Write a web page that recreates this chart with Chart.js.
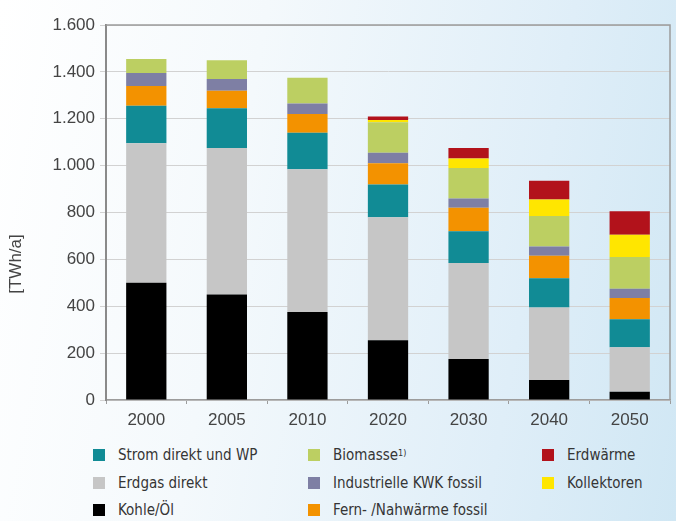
<!DOCTYPE html>
<html>
<head>
<meta charset="utf-8">
<script src="https://cdn.jsdelivr.net/npm/chart.js@4/dist/chart.umd.min.js"></script>
<style>
  html, body { margin: 0; padding: 0; }
  body {
    width: 676px; height: 521px; overflow: hidden; position: relative;
    background: linear-gradient(100deg, #ffffff 0%, #f4f9fc 35%, #dfeef8 75%, #d0e7f4 100%);
  }
  #wrap { position: absolute; left: 0; top: 0; width: 676px; height: 440px; }
  .lg { position: absolute; display: flex; align-items: center; height: 20px;
        font-family: "DejaVu Sans Condensed", "DejaVu Sans", sans-serif; font-stretch: condensed;
        font-size: 15px; color: #353535; white-space: nowrap; }
  .lg i { display: inline-block; width: 12px; height: 12px; margin-right: 13px; }
  .lg sup { font-size: 9px; position: relative; top: -2px; }
</style>
</head>
<body>
<div id="wrap"><canvas id="c"></canvas></div>
<div id="legend"></div>
<script>
// categories and tick labels
const years = ['2000', '2005', '2010', '2020', '2030', '2040', '2050'];
const yTicks = [0, 200, 400, 600, 800, 1000, 1200, 1400, 1600];
const yTitle = '[TWh/a]';

// series, bottom to top of the stack (TWh/a)
const kohleOel    = [500, 450, 375, 255, 175, 85, 35];
const erdgas      = [595, 625, 610, 525, 410, 310, 190];
const strom       = [160, 170, 155, 140, 135, 125, 120];
const fernwaerme  = [85, 75, 80, 90, 100, 95, 90];
const kwk         = [55, 50, 45, 45, 40, 40, 40];
const biomasse    = [60, 80, 110, 130, 130, 130, 135];
const kollektoren = [0, 0, 0, 10, 40, 70, 95];
const erdwaerme   = [0, 0, 0, 15, 45, 80, 100];

const seriesLabels = ['Kohle/Öl', 'Erdgas direkt', 'Strom direkt und WP', 'Fern- /Nahwärme fossil',
  'Industrielle KWK fossil', 'Biomasse', 'Kollektoren', 'Erdwärme'];
const seriesData = [kohleOel, erdgas, strom, fernwaerme, kwk, biomasse, kollektoren, erdwaerme];
const seriesColors = ['#000000', '#c6c6c6', '#118b95', '#f39200', '#7e7fa4', '#bccf62', '#ffe600', '#b2121b'];

// legend: three columns, read top to bottom
const legendColumns = [[2, 1, 0], [5, 4, 3], [7, 6]];

const fmt = v => String(v).replace(/\B(?=(\d{3})+(?!\d))/g, '.');

const frame = {
  id: 'frame',
  afterDraw(chart) {
    const { ctx, chartArea: a } = chart;
    ctx.save();
    ctx.strokeStyle = '#9c9c9c';
    ctx.lineWidth = 1.5;
    ctx.beginPath();
    ctx.moveTo(a.left, a.top);
    ctx.lineTo(a.right, a.top);
    ctx.lineTo(a.right, a.bottom);
    ctx.stroke();
    // y title sits below the middle of the axis in the original
    ctx.translate(16, 264);
    ctx.rotate(-Math.PI / 2);
    ctx.font = '17px "Liberation Sans", Arial, sans-serif';
    ctx.fillStyle = '#444';
    ctx.textAlign = 'center';
    ctx.textBaseline = 'middle';
    ctx.fillText(yTitle, 0, 0);
    ctx.restore();
  }
};

new Chart(document.getElementById('c').getContext('2d'), {
  type: 'bar',
  data: {
    labels: years,
    datasets: seriesData.map((d, i) => ({
      label: seriesLabels[i],
      data: d,
      backgroundColor: seriesColors[i],
      borderWidth: 0,
      barPercentage: 0.5,
      categoryPercentage: 1
    }))
  },
  options: {
    responsive: true,
    maintainAspectRatio: false,
    animation: false,
    layout: { padding: { left: 0, right: 6, top: 25, bottom: 0 } },
    plugins: { legend: { display: false }, tooltip: { enabled: false } },
    scales: {
      x: {
        stacked: true,
        grid: { offset: true, drawOnChartArea: false, drawTicks: true, tickLength: 4, color: '#9c9c9c' },
        border: { color: '#9c9c9c', width: 1.5 },
        ticks: { padding: 6, color: '#444', font: { family: '"Liberation Sans", Arial, sans-serif', size: 17 } },
        afterFit: s => { s.height = 40; }
      },
      y: {
        stacked: true,
        min: 0,
        max: 1600,
        afterBuildTicks: s => { s.ticks = yTicks.map(v => ({ value: v })); },
        grid: { color: '#d2d2d2', tickLength: 6, drawTicks: true },
        border: { color: '#8a8a8a', width: 2 },
        ticks: { padding: 5, color: '#444', callback: v => fmt(v),
                 font: { family: '"Liberation Sans", Arial, sans-serif', size: 17 } },
        afterFit: s => { s.width = 106; }
      }
    }
  },
  plugins: [frame]
});

// HTML legend built from the same arrays
const colX = [93, 308, 542];
const rowY = [445, 473, 500];
const lg = document.getElementById('legend');
legendColumns.forEach((col, c) => {
  col.forEach((idx, r) => {
    const el = document.createElement('div');
    el.className = 'lg';
    el.style.left = colX[c] + 'px';
    el.style.top = rowY[r] + 'px';
    const sw = document.createElement('i');
    sw.style.background = seriesColors[idx];
    el.appendChild(sw);
    el.appendChild(document.createTextNode(seriesLabels[idx]));
    if (seriesLabels[idx] === 'Biomasse') {
      const s = document.createElement('sup');
      s.textContent = '1)';
      el.appendChild(s);
    }
    lg.appendChild(el);
  });
});
</script>
</body>
</html>
